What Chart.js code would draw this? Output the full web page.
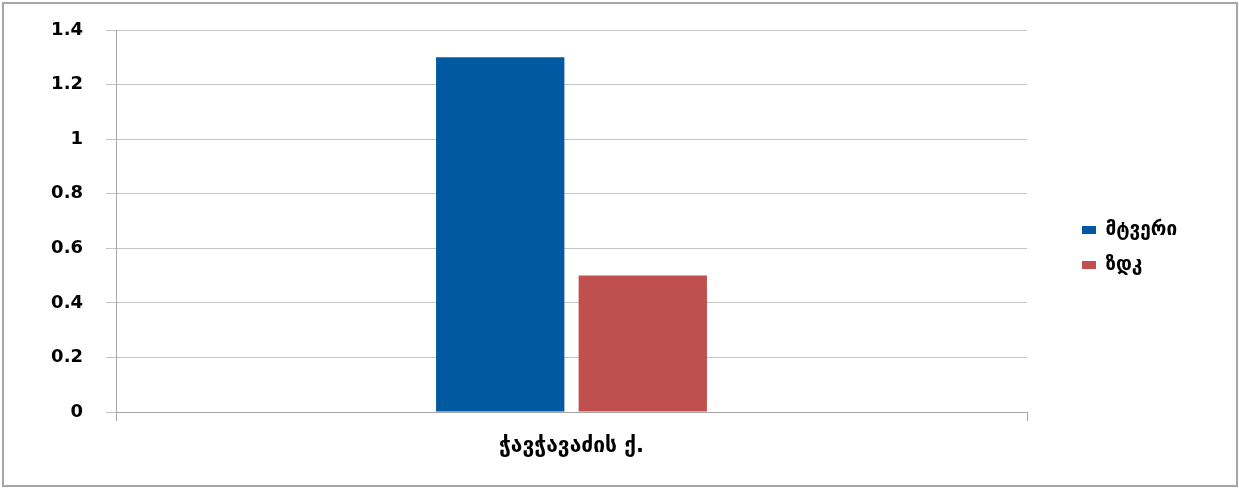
<!DOCTYPE html>
<html>
<head>
<meta charset="utf-8">
<script src="https://cdn.jsdelivr.net/npm/chart.js@4/dist/chart.umd.min.js"></script>
<style>
    html, body { margin: 0; padding: 0; background: #ffffff; }
    #wrap { position: relative; width: 1239px; height: 489px; }
    #frame {
        position: absolute; left: 2px; top: 2px; width: 1232px; height: 481px;
        border: 2px solid #a6a6a6; pointer-events: none;
    }
</style>
</head>
<body>
<div id="wrap">
    <canvas id="dustChart" width="1239" height="489"></canvas>
    <div id="frame"></div>
</div>
<script>
// data
const categories = ["ჭავჭავაძის ქ."];
const dustValues = [1.3];   // მტვერი
const limitValues = [0.5];  // ზდკ
const yTicks = [0, 0.2, 0.4, 0.6, 0.8, 1, 1.2, 1.4];

const gridGray = "#c4c4c4";
const axisGray = "#a6a6a6";

// legend column fixed to the right side, items moved to where they sit in the picture
const legendPlace = {
    id: "legendPlace",
    afterInit(chart) {
        const lg = chart.legend;
        const fit = lg.fit.bind(lg);
        lg.fit = function () {
            fit();
            this.width = 212;
        };
    },
    afterLayout(chart) {
        const lg = chart.legend;
        const pad = chart.options.plugins.legend.labels.padding;
        const dx = 1082 - (lg.left + pad);
        lg.left += dx;
        lg.right += dx;
        lg.top -= 12;
        lg.bottom -= 12;
    },
};

const ctx = document.getElementById("dustChart").getContext("2d");

new Chart(ctx, {
    type: "bar",
    data: {
        labels: categories,
        datasets: [
            {
                label: "მტვერი",
                data: dustValues,
                backgroundColor: "#0059a1",
                borderWidth: 0,
            },
            {
                label: "ზდკ",
                data: limitValues,
                backgroundColor: "#c0504d",
                borderWidth: 0,
            },
        ],
    },
    options: {
        responsive: false,
        animation: false,
        layout: { padding: { left: 0, right: 0, top: 30, bottom: 0 } },
        datasets: {
            bar: { categoryPercentage: 0.313, barPercentage: 0.9 },
        },
        scales: {
            x: {
                offset: true,
                grid: {
                    offset: true,
                    drawOnChartArea: false,
                    tickLength: 9,
                    color: axisGray,
                },
                border: { color: axisGray },
                ticks: {
                    color: "#000000",
                    padding: 13,
                    font: { family: "DejaVu Sans", size: 21, weight: "bold" },
                },
                afterFit(scale) { scale.height = 77; },
            },
            y: {
                min: 0,
                max: 1.4,
                afterBuildTicks(scale) {
                    scale.ticks = yTicks.map((v) => ({ value: v }));
                },
                grid: { color: gridGray, tickLength: 10 },
                border: { color: axisGray },
                ticks: {
                    color: "#000000",
                    padding: 23,
                    font: { family: "DejaVu Sans", size: 18, weight: "bold" },
                    callback: function (value) {
                        return String(value);
                    },
                },
                afterFit(scale) {
                    scale.width = 116;
                    scale.paddingTop = 0;
                    scale.paddingBottom = 0;
                },
            },
        },
        plugins: {
            legend: {
                position: "right",
                labels: {
                    boxWidth: 14,
                    boxHeight: 8,
                    padding: 16,
                    color: "#000000",
                    font: { family: "DejaVu Sans", size: 19, weight: "bold" },
                },
            },
            tooltip: { enabled: false },
        },
    },
    plugins: [legendPlace],
});
</script>
</body>
</html>
